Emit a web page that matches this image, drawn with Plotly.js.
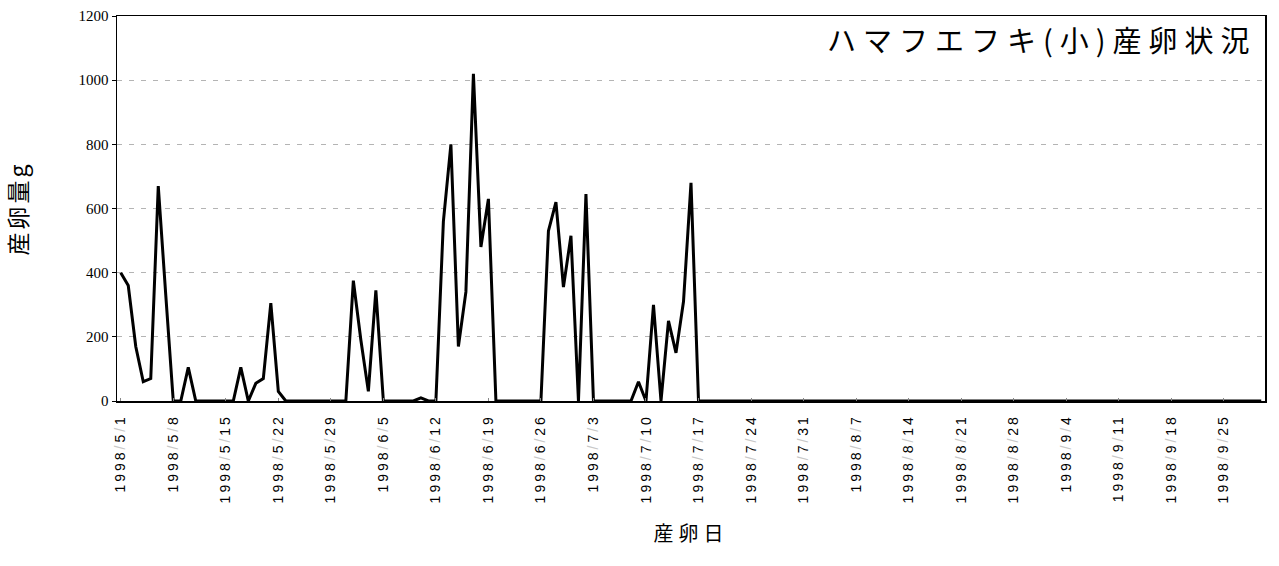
<!DOCTYPE html>
<html>
<head>
<meta charset="utf-8">
<script src="https://cdn.plot.ly/plotly-3.0.1.min.js"></script>
<style>
  html, body { margin: 0; padding: 0; background: #fff; }
  #chart { width: 1279px; height: 566px; }
</style>
</head>
<body>
<div id="chart"></div>
<script>
// Daily spawning amount (g), 1998-05-01 .. 1998-09-30, one array per month
const may1998 = [400, 360, 170, 60, 70, 670, 330, 0, 0, 105,
                 0, 0, 0, 0, 0, 0, 105, 0, 55, 70,
                 305, 30, 0, 0, 0, 0, 0, 0, 0, 0,
                 0];
const june1998 = [375, 190, 30, 345, 0, 0, 0, 0, 0, 10,
                  0, 0, 560, 800, 170, 340, 1020, 480, 630, 0,
                  0, 0, 0, 0, 0, 0, 530, 620, 355, 515];
const july1998 = [0, 645, 0, 0, 0, 0, 0, 0, 60, 0,
                  300, 0, 250, 150, 310, 680, 0, 0, 0, 0,
                  0, 0, 0, 0, 0, 0, 0, 0, 0, 0,
                  0];
const august1998 = [0, 0, 0, 0, 0, 0, 0, 0, 0, 0,
                    0, 0, 0, 0, 0, 0, 0, 0, 0, 0,
                    0, 0, 0, 0, 0, 0, 0, 0, 0, 0,
                    0];
const september1998 = [0, 0, 0, 0, 0, 0, 0, 0, 0, 0,
                       0, 0, 0, 0, 0, 0, 0, 0, 0, 0,
                       0, 0, 0, 0, 0, 0, 0, 0, 0, 0];

const startDate = '1998-05-01';

// Weekly date labels on the x axis
const tickLabels = ['1998/5/1', '1998/5/8', '1998/5/15', '1998/5/22', '1998/5/29',
                    '1998/6/5', '1998/6/12', '1998/6/19', '1998/6/26', '1998/7/3',
                    '1998/7/10', '1998/7/17', '1998/7/24', '1998/7/31', '1998/8/7',
                    '1998/8/14', '1998/8/21', '1998/8/28', '1998/9/4', '1998/9/11',
                    '1998/9/18', '1998/9/25'];

const chartTitle = 'ハマフエフキ(小)産卵状況';
const yTitle = '産卵量g';
const xTitle = '産卵日';

// ---- build the series ----
const amounts = [].concat(may1998, june1998, july1998, august1998, september1998);
const t0 = Date.parse(startDate + 'T00:00:00Z');
const pad = n => (n < 10 ? '0' : '') + n;
const isoDay = ms => {
  const d = new Date(ms);
  return d.getUTCFullYear() + '-' + pad(d.getUTCMonth() + 1) + '-' + pad(d.getUTCDate());
};
const days = amounts.map((_, i) => isoDay(t0 + i * 86400000));

const tickVals = tickLabels.map(s => {
  const [y, m, d] = s.split('/').map(Number);
  return y + '-' + pad(m) + '-' + pad(d);
});
// faint slashes, wide letter spacing
const tickText = tickLabels.map(s =>
  '<span style="letter-spacing:3px">' +
  s.split('/').join('<span style="color:#c8c8c8">/</span>') + '</span>');

const spaced = (txt, px) => '<span style="letter-spacing:' + px + 'px">' + txt + '</span>';

const trace = {
  x: days,
  y: amounts,
  type: 'scatter',
  mode: 'lines',
  line: { color: '#000', width: 3 },
  hoverinfo: 'x+y'
};

const layout = {
  width: 1279,
  height: 566,
  paper_bgcolor: '#fff',
  plot_bgcolor: '#fff',
  showlegend: false,
  margin: { l: 117, r: 14, t: 16, b: 165 },
  xaxis: {
    type: 'date',
    range: ['1998-04-30 12:00', '1998-09-30 12:00'],
    tickmode: 'array',
    tickvals: tickVals,
    ticktext: tickText,
    tickangle: -90,
    tickfont: { family: 'Liberation Sans, Arial, sans-serif', size: 14, color: '#000' },
    ticklabelstandoff: 6,
    ticks: 'inside',
    ticklen: 3,
    tickcolor: '#888',
    showgrid: false,
    zeroline: false,
    showline: true,
    linecolor: '#000',
    linewidth: 1.5,
    mirror: true,
    title: {
      text: spaced(xTitle, 5),
      font: { family: 'Noto Sans CJK JP, sans-serif', size: 20, color: '#000' },
      standoff: 24
    }
  },
  yaxis: {
    range: [0, 1200],
    dtick: 200,
    tick0: 0,
    tickfont: { family: 'Liberation Serif, serif', size: 15, color: '#000' },
    ticks: 'outside',
    ticklen: 4,
    tickcolor: '#000',
    showgrid: true,
    gridcolor: '#b4b4b4',
    gridwidth: 1,
    griddash: '5px,7px',
    zeroline: false,
    showline: true,
    linecolor: '#000',
    linewidth: 1.5,
    mirror: true,
    title: {
      text: spaced(yTitle, 3),
      font: { family: 'Noto Sans CJK JP, sans-serif', size: 23, color: '#000' },
      standoff: 48
    }
  },
  annotations: [{
    xref: 'paper', yref: 'paper',
    x: 0.9945, y: 0.94,
    xanchor: 'right', yanchor: 'middle',
    text: spaced(chartTitle, 7),
    showarrow: false,
    font: { family: 'Noto Sans CJK JP, sans-serif', size: 29, color: '#000' }
  }]
};

Plotly.newPlot('chart', [trace], layout, { displayModeBar: false, staticPlot: true });
</script>
</body>
</html>
